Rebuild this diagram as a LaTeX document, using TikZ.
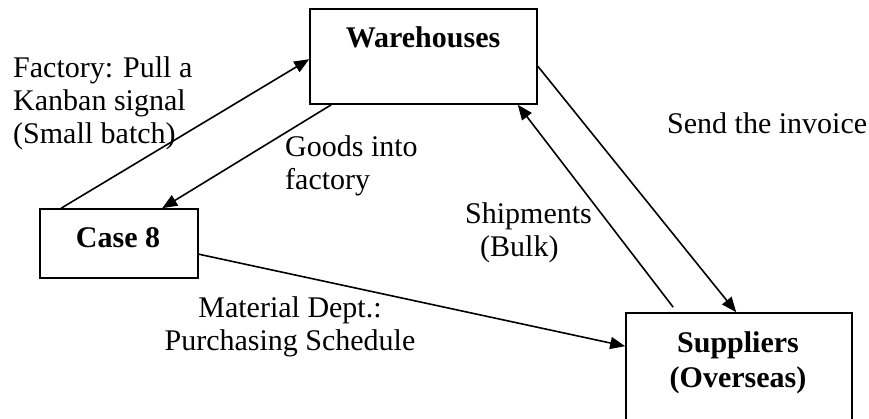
\documentclass[tikz,border=0pt]{standalone}
\usepackage{fontspec}
\setmainfont{Liberation Serif}
\usetikzlibrary{arrows.meta}
\begin{document}
\begin{tikzpicture}[x=1pt,y=-1pt,
  box/.style={draw, line width=1.6pt, inner sep=0pt, rectangle},
  lbl/.style={inner sep=0pt, font=\fontsize{30}{33}\selectfont},
  blbl/.style={inner sep=0pt, font=\fontsize{30}{35}\selectfont\bfseries},
  conn/.style={line width=1.6pt, -{Triangle[length=15pt,width=12pt]}},
  plain/.style={line width=1.6pt}]
\useasboundingbox (0,0) rectangle (869,419);
\clip (0,0) rectangle (869,419);
% boxes
\node[box, minimum width=227pt, minimum height=95pt] (wh) at (423.5,56.5) {};
\node[box, minimum width=158pt, minimum height=69pt] (c8) at (119,243.5) {};
\node[box, minimum width=226pt, minimum height=120pt] (sup) at (739,373) {};
% box texts
\node[blbl, anchor=base] (wht) at (423,48) {Warehouses};
\node[blbl, anchor=base] (c8t) at (118,248) {Case 8};
\node[blbl, anchor=base] (supt) at (738,352) {Suppliers};
\node[blbl, anchor=base] (supt2) at (738,387) {(Overseas)};
% labels
\node[lbl, anchor=north west, align=left] (lfac) at (13,56.5) {Factory: Pull a\\Kanban signal\\(Small batch)};
\node[lbl, anchor=north west, align=left] (lgoods) at (285,135.5) {Goods into\\factory};
\node[lbl, anchor=north west] (linv) at (667,112) {Send the invoice};
\node[lbl, anchor=north west, align=left] (lship) at (465,202.5) {Shipments\\\hspace{15pt}(Bulk)};
\node[lbl, anchor=north, align=center] (lmat) at (290,296) {Material Dept.:\\Purchasing Schedule};
% connectors
\coordinate (a1s) at ([xshift=22pt]c8.north west);
\coordinate (a1e) at ([yshift=-51pt]wh.north west);
\draw[conn] (a1s) -- (a1e);
\coordinate (a2s) at ([xshift=22pt]wh.south west);
\coordinate (a2e) at ([xshift=123pt]c8.north west);
\draw[conn] (a2s) -- (a2e);
\coordinate (a3s) at ([yshift=-58pt]wh.north east);
\coordinate (a3e) at ([xshift=111pt]sup.north west);
\draw[conn] (a3s) -- (a3e);
\coordinate (a4s) at ([xshift=48pt,yshift=5pt]sup.north west);
\coordinate (a4e) at ([xshift=-20pt]wh.south east);
\draw[conn] (a4s) -- (a4e);
\coordinate (a5s) at ([yshift=-46pt]c8.north east);
\coordinate (a5e) at ([yshift=-34pt]sup.north west);
\draw[conn] (a5s) -- (a5e);
\end{tikzpicture}
\end{document}
